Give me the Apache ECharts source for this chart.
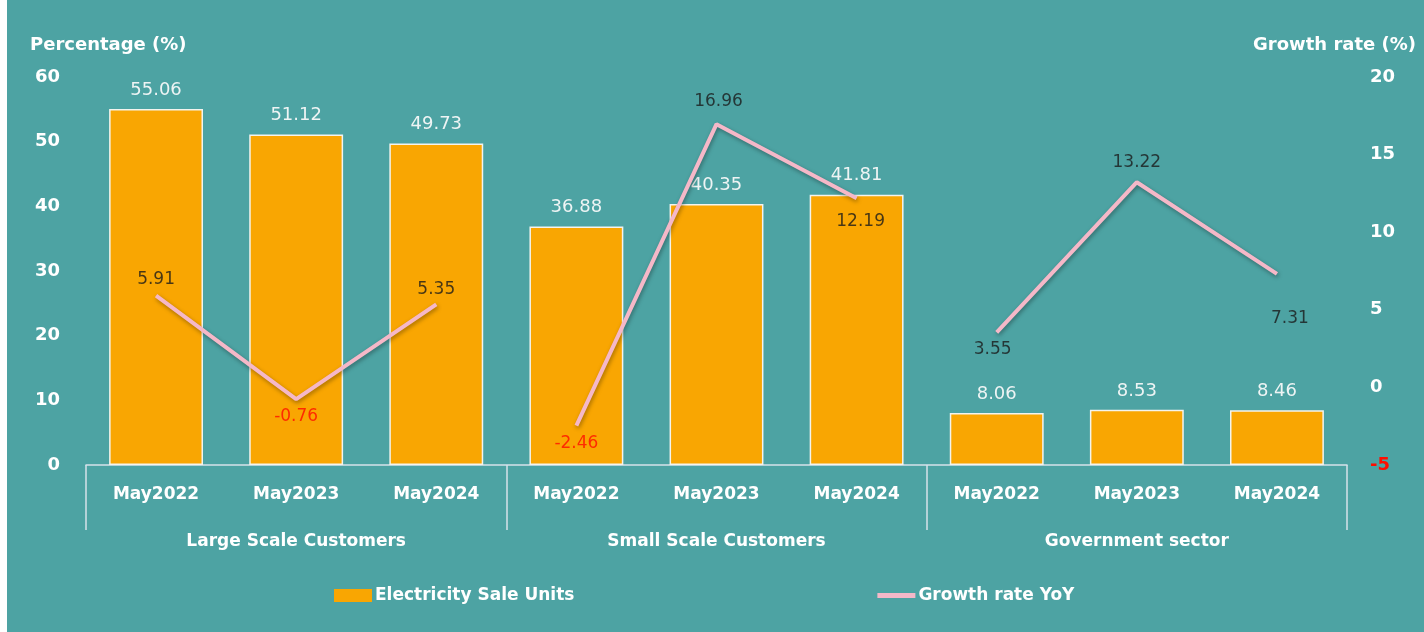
<!DOCTYPE html>
<html>
<head>
<meta charset="utf-8">
<script src="https://cdn.jsdelivr.net/npm/echarts@6/dist/echarts.min.js"></script>
<style>
html,body{margin:0;padding:0;background:#ffffff;}
#chart{position:absolute;left:7px;top:0;width:1417px;height:632px;}
</style>
</head>
<body>
<div id="chart"></div>
<script>
const periods = ['May2022','May2023','May2024','May2022','May2023','May2024','May2022','May2023','May2024'];
const groups = ['Large Scale Customers','Small Scale Customers','Government sector'];
const saleUnits = [55.06, 51.12, 49.73, 36.88, 40.35, 41.81, 8.06, 8.53, 8.46];
const growthRate = [5.91, -0.76, 5.35, -2.46, 16.96, 12.19, 3.55, 13.22, 7.31];
const leftTicks = [0, 60, 10];
const rightTicks = [-5, 20, 5];

const FONT = '"DejaVu Sans", sans-serif';
// label placement style for the growth labels: [position, distance, x offset]
const growthLabelStyle = [
  ['top', 7, 0], ['bottom', 8, 0], ['top', 6, 0],
  ['bottom', 9, 0], ['top', 14, 2], ['bottom', 14, 4],
  ['bottom', 8, -4], ['top', 11, 0], ['bottom', 36, 13]
];

function groupSeries(g) {
  const data = periods.map((p, i) => (Math.floor(i / 3) === g ? growthRate[i] : '-'));
  return {
    name: 'Growth rate YoY',
    type: 'line',
    xAxisIndex: 0,
    yAxisIndex: 1,
    data: data,
    symbol: 'none',
    connectNulls: false,
    z: 5,
    lineStyle: {
      color: '#f5b8c8', width: 4,
      shadowColor: 'rgba(0,0,0,0.35)', shadowBlur: 4, shadowOffsetX: 1, shadowOffsetY: 2
    },
    itemStyle: {color: '#f5b8c8'}
  };
}

const labelSeries = {
  name: 'growthLabels',
  type: 'scatter',
  xAxisIndex: 0,
  yAxisIndex: 1,
  symbolSize: 1,
  silent: true,
  z: 6,
  itemStyle: {color: 'rgba(0,0,0,0)'},
  data: growthRate.map((v, i) => ({
    value: v,
    label: {
      show: true,
      position: growthLabelStyle[i][0],
      distance: growthLabelStyle[i][1],
      offset: [growthLabelStyle[i][2], 0],
      color: v < 0 ? '#ff0d00' : '#1a1a1a',
      fontFamily: FONT,
      fontSize: 17,
      formatter: v.toFixed(2)
    }
  }))
};

const chart = echarts.init(document.getElementById('chart'));
chart.setOption({
  backgroundColor: '#4da3a3',
  animation: false,
  textStyle: {fontFamily: FONT},
  title: [
    {text: 'Percentage (%)', left: 18, top: 31,
     textStyle: {color: '#ffffff', fontSize: 18, fontWeight: 'bold', fontFamily: FONT}},
    {text: 'Growth rate (%)', right: 3, top: 31,
     textStyle: {color: '#ffffff', fontSize: 18, fontWeight: 'bold', fontFamily: FONT}}
  ],
  legend: {
    bottom: 23,
    left: 322,
    itemGap: 303,
    itemWidth: 38,
    itemHeight: 13,
    symbolKeepAspect: true,
    textStyle: {color: '#ffffff', fontSize: 17, fontWeight: 'bold', fontFamily: FONT, padding: [0,0,0,-2]},
    data: [
      {name: 'Electricity Sale Units', icon: 'rect', itemStyle: {color: '#f9a602', borderWidth: 0}},
      {name: 'Growth rate YoY', icon: 'path://M0,0H38V5H0Z', itemStyle: {color: '#f5b8c8', borderWidth: 0}}
    ]
  },
  grid: {left: 79, right: 77, top: 77, bottom: 167},
  xAxis: [
    {
      type: 'category', data: periods, position: 'bottom',
      axisLine: {show: true, onZero: false, lineStyle: {color: '#d6e2ea', width: 1.5}},
      axisTick: {show: false},
      axisLabel: {color: '#ffffff', fontSize: 17, fontWeight: 'bold', fontFamily: FONT, margin: 21, interval: 0}
    },
    {
      type: 'category', data: groups, position: 'bottom',
      axisLine: {show: false, onZero: false},
      axisTick: {show: true, inside: false, length: 65, lineStyle: {color: '#d6e2ea', width: 1.5}},
      axisLabel: {color: '#ffffff', fontSize: 17, fontWeight: 'bold', fontFamily: FONT, margin: 68, interval: 0}
    }
  ],
  yAxis: [
    {
      type: 'value', min: leftTicks[0], max: leftTicks[1], interval: leftTicks[2],
      splitLine: {show: false}, axisLine: {show: false}, axisTick: {show: false},
      axisLabel: {color: '#ffffff', fontSize: 18, fontWeight: 'bold', fontFamily: FONT, margin: 26}
    },
    {
      type: 'value', min: rightTicks[0], max: rightTicks[1], interval: rightTicks[2],
      splitLine: {show: false}, axisLine: {show: false}, axisTick: {show: false},
      axisLabel: {
        color: v => (Number(v) < 0 ? '#ff0d00' : '#ffffff'),
        fontSize: 18, fontWeight: 'bold', fontFamily: FONT, margin: 23
      }
    }
  ],
  series: [
    {
      name: 'Electricity Sale Units',
      type: 'bar',
      xAxisIndex: 0, yAxisIndex: 0,
      data: saleUnits,
      barWidth: '67%',
      itemStyle: {color: '#f9a602', borderColor: '#f4f4ee', borderWidth: 1.5},
      label: {show: true, position: 'top', distance: 10, color: '#eef4f4', fontSize: 18, fontFamily: FONT,
              formatter: p => p.value.toFixed(2)},
      z: 2
    },
    groupSeries(0), groupSeries(1), groupSeries(2),
    labelSeries
  ]
});
</script>
</body>
</html>
